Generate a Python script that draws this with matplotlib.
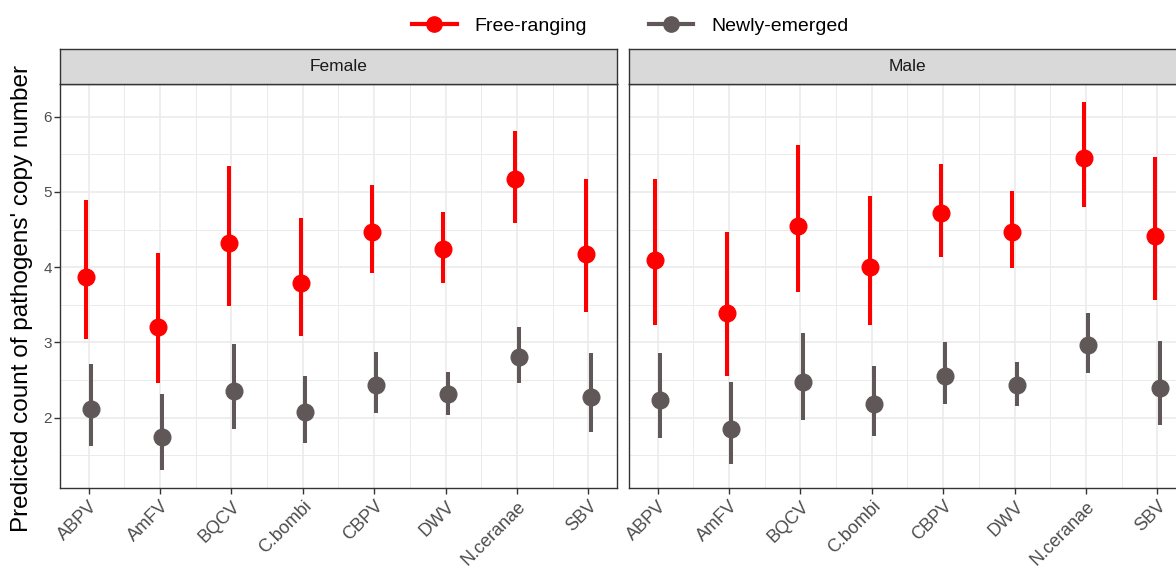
import numpy as np
import matplotlib
matplotlib.use('Agg')
import matplotlib.pyplot as plt
from matplotlib.lines import Line2D

plt.rcParams['font.family'] = ['Liberation Sans', 'DejaVu Sans']

categories = ['ABPV', 'AmFV', 'BQCV', 'C.bombi', 'CBPV', 'DWV', 'N.ceranae', 'SBV']
panels = ['Female', 'Male']
groups = ['Free-ranging', 'Newly-emerged']

# predicted counts with lower / upper limits
female_free = [3.87, 3.21, 4.32, 3.79, 4.47, 4.24, 5.17, 4.18]
female_free_lo = [3.05, 2.46, 3.48, 3.08, 3.92, 3.79, 4.59, 3.40]
female_free_hi = [4.90, 4.19, 5.34, 4.66, 5.09, 4.74, 5.81, 5.17]
female_new = [2.11, 1.75, 2.35, 2.07, 2.43, 2.31, 2.81, 2.28]
female_new_lo = [1.63, 1.31, 1.85, 1.67, 2.06, 2.04, 2.46, 1.81]
female_new_hi = [2.72, 2.31, 2.98, 2.55, 2.87, 2.61, 3.21, 2.86]

male_free = [4.09, 3.39, 4.55, 4.00, 4.72, 4.47, 5.45, 4.41]
male_free_lo = [3.23, 2.56, 3.67, 3.23, 4.14, 3.99, 4.80, 3.56]
male_free_hi = [5.17, 4.47, 5.62, 4.94, 5.37, 5.01, 6.19, 5.47]
male_new = [2.23, 1.85, 2.48, 2.18, 2.56, 2.43, 2.97, 2.40]
male_new_lo = [1.73, 1.38, 1.97, 1.76, 2.18, 2.16, 2.59, 1.90]
male_new_hi = [2.86, 2.47, 3.12, 2.69, 3.01, 2.74, 3.39, 3.02]

data = {
    'Female': [(female_free, female_free_lo, female_free_hi), (female_new, female_new_lo, female_new_hi)],
    'Male': [(male_free, male_free_lo, male_free_hi), (male_new, male_new_lo, male_new_hi)],
}
colors = ['#FF0000', '#605858']
offsets = [-0.03, 0.03]

W, H = 1176, 571
fig = plt.figure(figsize=(W / 100, H / 100), dpi=100)

px = lambda v: v / W
py = lambda v: 1 - v / H

panel_left = [60, 629]
panel_w = 557
top, bottom = 84, 488
strip_top = 48.5

x = np.arange(1, len(categories) + 1)
for i, name in enumerate(panels):
    ax = fig.add_axes([px(panel_left[i]), py(bottom), px(panel_w), (bottom - top) / H])
    for g in range(2):
        mid, lo, hi = (np.array(v) for v in data[name][g])
        ax.vlines(x + offsets[g], lo, hi, color=colors[g], linewidth=2.9, zorder=3)
        ax.plot(x + offsets[g], mid, 'o', color=colors[g], markersize=12, zorder=4)
    ax.set_xlim(0.6, 8.4)
    ax.set_ylim(1.066, 6.435)
    ax.set_xticks(x)
    ax.set_xticks(x[:-1] + 0.5, minor=True)
    ax.set_yticks([2, 3, 4, 5, 6])
    ax.set_yticks([1.5, 2.5, 3.5, 4.5, 5.5], minor=True)
    ax.grid(which='major', color='#EBEBEB', linewidth=1.2, zorder=0)
    ax.grid(which='minor', color='#EBEBEB', linewidth=0.7, zorder=0)
    ax.set_axisbelow(True)
    ax.set_xticklabels(categories, rotation=45, ha='right', va='top',
                       rotation_mode='anchor', fontsize=13, color='#4D4D4D')
    ax.tick_params(axis='x', which='major', length=4, width=1, color='#333333', pad=3)
    ax.tick_params(which='minor', length=0)
    if i == 0:
        ax.tick_params(axis='y', which='major', length=4, width=1, color='#333333',
                       labelsize=11, labelcolor='#4D4D4D', pad=2)
    else:
        ax.tick_params(axis='y', which='major', length=0, labelleft=False)
    for s in ax.spines.values():
        s.set_color('#333333')
        s.set_linewidth(1.0)

    # facet strip
    sax = fig.add_axes([px(panel_left[i]), py(top), px(panel_w), (top - strip_top) / H])
    sax.set_facecolor('#D9D9D9')
    sax.set_xticks([])
    sax.set_yticks([])
    for s in sax.spines.values():
        s.set_color('#333333')
        s.set_linewidth(1.0)
    sax.text(0.5, 0.5, name, transform=sax.transAxes, ha='center', va='center',
             fontsize=12.5, color='#1A1A1A')

fig.text(px(22), py(298), "Predicted count of pathogens' copy number", rotation=90,
         ha='center', va='center', fontsize=17.5, color='black')

handles = [Line2D([0], [0], color=c, linewidth=3, marker='o', markersize=11) for c in colors]
fig.legend(handles, groups, loc='center', bbox_to_anchor=(px(630), py(26)), ncol=2,
           frameon=False, fontsize=14, handlelength=2.3, handletextpad=0.9,
           columnspacing=3.2)

fig.savefig('out.png', dpi=100)
